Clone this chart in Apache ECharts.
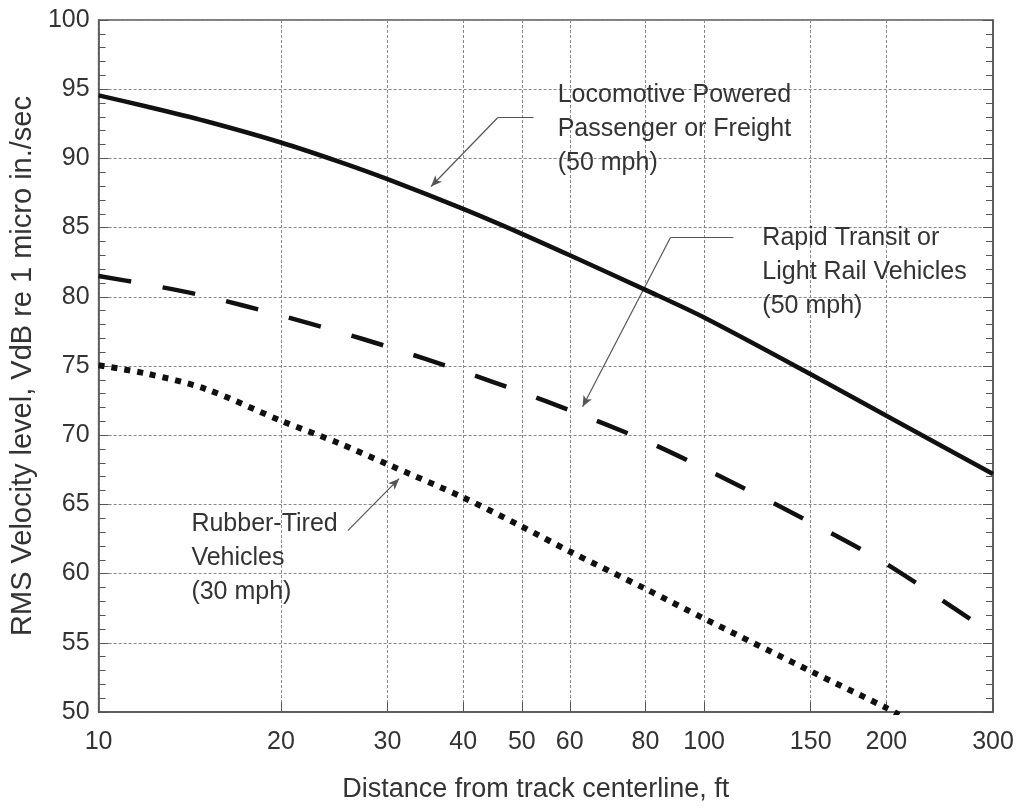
<!DOCTYPE html>
<html>
<head>
<meta charset="utf-8">
<script src="https://cdn.jsdelivr.net/npm/echarts@6/dist/echarts.min.js"></script>
<style>
html,body{margin:0;padding:0;background:#fff;}
#chart{width:1019px;height:808px;}
</style>
</head>
<body>
<div id="chart"></div>
<script>
// ---- Data ----
const distanceTicks = [10, 20, 30, 40, 50, 60, 80, 100, 150, 200, 300];
const levelTicks = [50, 55, 60, 65, 70, 75, 80, 85, 90, 95, 100];

const distances = [10, 12, 15, 20, 25, 30, 40, 50, 60, 80, 100, 150, 200, 300];
const locomotive = [94.55, 93.75, 92.7, 91.15, 89.75, 88.5, 86.35, 84.55, 83.0, 80.5, 78.5, 74.4, 71.4, 67.2];
const rapidTransit = [81.5, 80.9, 80.05, 78.65, 77.45, 76.4, 74.6, 73.1, 71.8, 69.6, 67.6, 63.7, 60.7, 55.6];

const rubberDistances = [10, 12, 15, 20, 25, 30, 40, 50, 60, 80, 100, 150, 200, 210];
const rubberTired = [75.05, 74.45, 73.35, 71.05, 69.4, 67.9, 65.5, 63.4, 61.6, 58.9, 56.75, 52.95, 50.3, 49.8];

const seriesNames = ['Locomotive Powered Passenger or Freight (50 mph)', 'Rapid Transit or Light Rail Vehicles (50 mph)', 'Rubber-Tired Vehicles (30 mph)'];
const annotationTexts = [
  'Locomotive Powered\nPassenger or Freight\n(50 mph)',
  'Rapid Transit or\nLight Rail Vehicles\n(50 mph)',
  'Rubber-Tired\nVehicles\n(30 mph)'
];
const xAxisTitle = 'Distance from track centerline, ft';
const yAxisTitle = 'RMS Velocity level, VdB re 1 micro in./sec';

// ---- Annotation anchors, in data coordinates ----
const annotationAnchors = [
  { text: [57.3, 95.8], leader: [[52.3, 92.94], [45.6, 92.94], [35.4, 87.97]] },
  { text: [124.8, 85.45], leader: [[111.8, 84.29], [88.0, 84.29], [63.0, 72.05]] },
  { text: [14.23, 64.84], leader: [[25.8, 63.11], [31.35, 66.86]] }
];

const FONT = "'Liberation Sans', Arial, Helvetica, sans-serif";
const TEXT = '#333';
const LINE = '#111';

function pairs(xs, ys) { return xs.map((x, i) => [x, ys[i]]); }

function leaderMarkLine(points) {
  const data = [];
  for (let i = 0; i < points.length - 1; i++) {
    const last = i === points.length - 2;
    data.push([
      { coord: points[i], symbol: 'none' },
      { coord: points[i + 1], symbol: last ? 'arrow' : 'none' }
    ]);
  }
  return {
    silent: true,
    animation: false,
    symbolSize: [7, 11],
    label: { show: false },
    emphasis: { disabled: true },
    lineStyle: { color: '#555', width: 1.2, type: 'solid' },
    data: data
  };
}

const chart = echarts.init(document.getElementById('chart'), null, { renderer: 'canvas' });

const option = {
  animation: false,
  backgroundColor: '#fff',
  textStyle: { fontFamily: FONT },
  grid: {
    left: 97, right: 26, top: 20, bottom: 94,
    show: true, borderColor: '#555', borderWidth: 1.5, backgroundColor: 'transparent'
  },
  xAxis: {
    type: 'log',
    logBase: 10,
    min: 10,
    max: 300,
    name: xAxisTitle,
    nameLocation: 'middle',
    nameGap: 64,
    nameTextStyle: { fontSize: 27, color: TEXT, fontFamily: FONT, padding: [0, 20, 0, 0] },
    axisLine: { show: true, lineStyle: { color: '#555', width: 1.5 } },
    axisTick: { show: true, inside: true, length: 10, customValues: distanceTicks, lineStyle: { color: '#555', width: 1 } },
    minorTick: { show: false },
    axisLabel: { customValues: distanceTicks, fontSize: 25, color: TEXT, margin: 18, fontFamily: FONT, formatter: v => String(Math.round(v)) },
    splitLine: { show: true, lineStyle: { color: '#888', width: 1, type: [3, 2] } },
    minorSplitLine: { show: false }
  },
  yAxis: [
    {
      type: 'value',
      min: 50, max: 100, interval: 5,
      position: 'left',
      name: yAxisTitle,
      nameLocation: 'middle',
      nameGap: 48,
      nameTextStyle: { fontSize: 29, color: TEXT, fontFamily: FONT },
      axisLine: { show: true, lineStyle: { color: '#555', width: 1.5 } },
      axisTick: { show: true, inside: true, length: 10, lineStyle: { color: '#555', width: 1 } },
      minorTick: { show: true, splitNumber: 5, length: 7, lineStyle: { color: '#555', width: 1 } },
      axisLabel: { fontSize: 25, color: TEXT, margin: 9, fontFamily: FONT },
      splitLine: { show: true, lineStyle: { color: '#888', width: 1, type: [3, 2] } }
    },
    {
      type: 'value',
      min: 50, max: 100, interval: 5,
      position: 'right',
      axisLine: { show: true, lineStyle: { color: '#555', width: 1.5 } },
      axisTick: { show: true, inside: true, length: 10, lineStyle: { color: '#555', width: 1 } },
      minorTick: { show: true, splitNumber: 5, length: 7, lineStyle: { color: '#555', width: 1 } },
      axisLabel: { show: false },
      splitLine: { show: false }
    }
  ],
  series: [
    {
      name: seriesNames[0],
      type: 'line',
      data: pairs(distances, locomotive),
      smooth: 0.3,
      symbol: 'none',
      z: 5,
      lineStyle: { color: LINE, width: 4.5, type: 'solid' },
      markLine: leaderMarkLine(annotationAnchors[0].leader)
    },
    {
      name: seriesNames[1],
      type: 'line',
      data: pairs(distances, rapidTransit),
      smooth: 0.3,
      symbol: 'none',
      z: 5,
      lineStyle: { color: LINE, width: 4.5, type: [33, 32], cap: 'butt' },
      markLine: leaderMarkLine(annotationAnchors[1].leader)
    },
    {
      name: seriesNames[2],
      type: 'line',
      data: pairs(rubberDistances, rubberTired),
      smooth: 0.3,
      symbol: 'none',
      z: 5,
      clip: true,
      lineStyle: { color: LINE, width: 6, type: [6, 7], cap: 'butt' },
      markLine: leaderMarkLine(annotationAnchors[2].leader)
    }
  ]
};

chart.setOption(option);

const graphics = annotationAnchors.map((a, i) => {
  const p = chart.convertToPixel({ xAxisIndex: 0, yAxisIndex: 0 }, a.text);
  return {
    type: 'text',
    x: p[0],
    y: p[1],
    z: 10,
    style: {
      text: annotationTexts[i],
      fontSize: 25,
      lineHeight: 34,
      fontFamily: FONT,
      fill: TEXT,
      align: 'left',
      verticalAlign: 'top'
    }
  };
});
chart.setOption({ graphic: graphics });
</script>
</body>
</html>
